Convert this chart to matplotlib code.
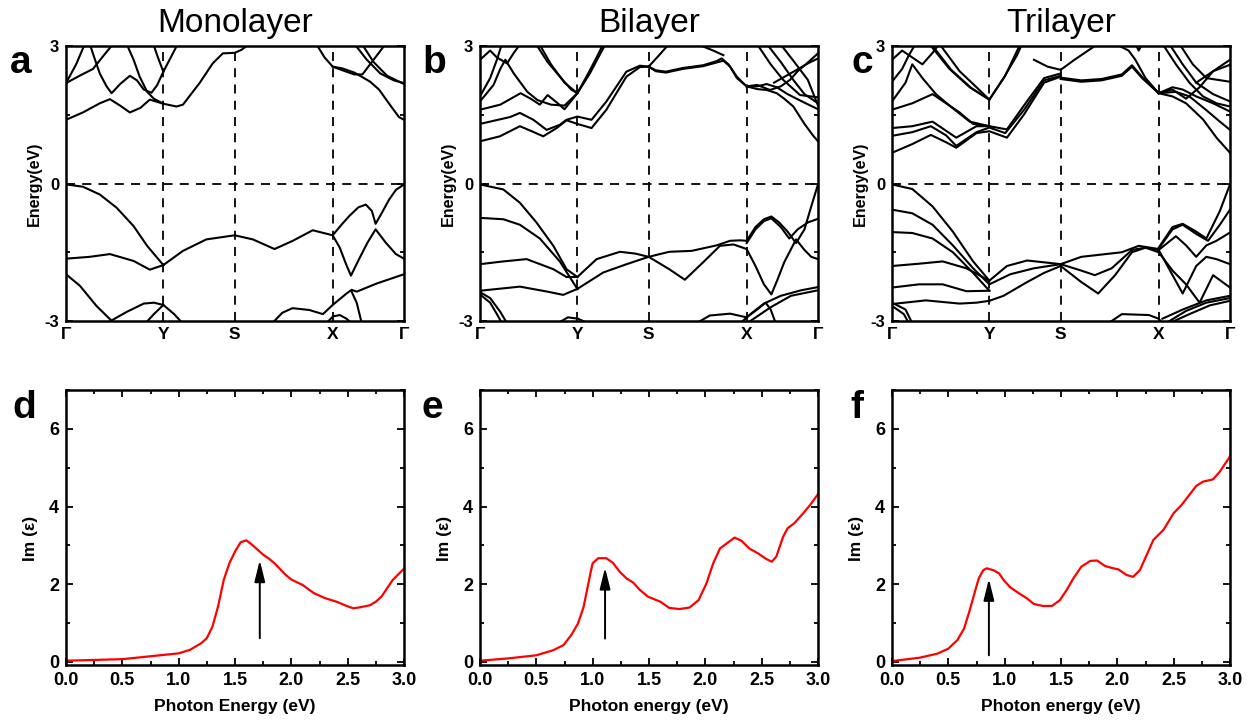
import numpy as np
import matplotlib
matplotlib.use("Agg")
import matplotlib.pyplot as plt
from matplotlib.ticker import MultipleLocator, FixedLocator

plt.rcParams['font.family'] = ['Liberation Sans', 'DejaVu Sans']

# ---- high-symmetry path (fraction of total path length) ----
k_ticks = [0.0, 0.288, 0.499, 0.789, 1.0]
k_labels = ['Γ', 'Y', 'S', 'X', 'Γ']
titles = ['Monolayer', 'Bilayer', 'Trilayer']

# ---- band structures, each band is a list of (k, E) points ----
mono_bands = [
    # valence
    [(0, -0.02), (0.05, -0.07), (0.10, -0.24), (0.15, -0.53), (0.20, -0.93), (0.24, -1.36), (0.288, -1.78)],
    [(0, -1.64), (0.07, -1.60), (0.13, -1.54), (0.20, -1.69), (0.248, -1.88), (0.288, -1.78)],
    [(0.288, -1.78), (0.346, -1.47), (0.415, -1.22), (0.499, -1.13), (0.553, -1.22), (0.617, -1.43),
     (0.671, -1.25), (0.730, -1.02), (0.789, -1.13)],
    [(0.789, -1.13), (0.815, -0.90), (0.838, -0.71), (0.865, -0.52), (0.887, -0.46), (0.905, -0.60),
     (0.916, -0.88), (0.936, -0.62), (0.956, -0.35), (0.976, -0.14), (1.0, -0.02)],
    [(0.789, -1.13), (0.81, -1.40), (0.828, -1.75), (0.843, -2.01), (0.867, -1.65), (0.892, -1.29),
     (0.916, -1.00), (0.946, -1.29), (0.976, -1.54), (1.0, -1.64)],
    [(0, -1.98), (0.041, -2.23), (0.09, -2.67), (0.13, -2.96), (0.145, -3.05)],
    [(0.12, -3.05), (0.18, -2.80), (0.23, -2.62), (0.26, -2.60), (0.288, -2.65), (0.32, -2.85), (0.345, -3.05)],
    [(0.235, -3.05), (0.26, -2.85), (0.288, -2.65)],
    [(0.61, -3.05), (0.64, -2.82), (0.67, -2.72), (0.72, -2.76), (0.76, -2.85), (0.789, -2.65), (0.83, -2.40),
     (0.845, -2.32), (0.86, -2.36), (0.92, -2.18), (1.0, -1.98)],
    [(0.77, -3.05), (0.79, -2.90), (0.81, -2.87), (0.83, -2.95), (0.845, -3.05)],
    [(0.845, -2.36), (0.86, -2.60), (0.875, -3.05)],
    # conduction
    [(0, 1.39), (0.05, 1.55), (0.10, 1.75), (0.13, 1.84), (0.16, 1.70), (0.189, 1.55), (0.22, 1.65),
     (0.248, 1.83), (0.288, 1.74), (0.327, 1.68), (0.346, 1.72), (0.395, 2.19), (0.434, 2.62),
     (0.464, 2.84), (0.499, 2.85), (0.52, 2.92), (0.543, 3.05)],
    [(0, 2.19), (0.04, 2.35), (0.08, 2.50), (0.11, 2.78), (0.14, 3.05)],
    [(0, 2.19), (0.03, 2.60), (0.056, 3.05)],
    [(0.07, 3.05), (0.085, 2.72), (0.10, 2.40), (0.12, 2.12), (0.135, 1.97), (0.16, 2.17), (0.189, 2.35),
     (0.21, 2.25), (0.23, 2.05), (0.253, 1.98), (0.27, 2.15), (0.288, 2.44), (0.31, 2.75), (0.331, 3.05)],
    [(0.179, 3.05), (0.20, 2.70), (0.218, 2.33), (0.24, 2.00), (0.26, 1.85), (0.288, 1.74)],
    [(0.258, 3.05), (0.272, 2.75), (0.288, 2.44)],
    [(0.74, 3.05), (0.765, 2.75), (0.789, 2.55), (0.818, 2.51), (0.853, 2.42), (0.877, 2.32), (0.90, 2.22),
     (0.926, 2.05), (0.96, 1.70), (0.985, 1.45), (1.0, 1.39)],
    [(0.789, 2.55), (0.818, 2.47), (0.853, 2.38), (0.877, 2.38), (0.91, 2.70), (0.946, 3.05)],
    [(0.853, 3.05), (0.89, 2.70), (0.93, 2.40), (0.97, 2.25), (1.0, 2.19)],
    [(0.875, 3.05), (0.91, 2.65), (0.95, 2.35), (1.0, 2.17)],
]

bi_bands = [
    # valence
    [(0, -0.02), (0.069, -0.13), (0.118, -0.42), (0.167, -0.85), (0.217, -1.36), (0.256, -1.87), (0.288, -2.04)],
    [(0, -0.75), (0.069, -0.78), (0.118, -0.90), (0.177, -1.20), (0.236, -1.70), (0.288, -2.30)],
    [(0, -1.76), (0.069, -1.70), (0.138, -1.65), (0.217, -1.87), (0.256, -2.04), (0.288, -2.04)],
    [(0, -2.34), (0.118, -2.25), (0.20, -2.36), (0.246, -2.43), (0.288, -2.30)],
    [(0.288, -2.04), (0.345, -1.65), (0.414, -1.49), (0.46, -1.53), (0.499, -1.60), (0.56, -1.49),
     (0.626, -1.47), (0.70, -1.35), (0.74, -1.25), (0.77, -1.24), (0.789, -1.25)],
    [(0.288, -2.30), (0.365, -1.94), (0.434, -1.76), (0.499, -1.60), (0.56, -1.87), (0.606, -2.10),
     (0.66, -1.72), (0.71, -1.36), (0.75, -1.33), (0.789, -1.43)],
    [(0.789, -1.25), (0.815, -0.95), (0.84, -0.78), (0.862, -0.72), (0.885, -0.85), (0.91, -1.05),
     (0.935, -1.30), (0.96, -1.00), (0.98, -0.50), (1.0, -0.02)],
    [(0.789, -1.30), (0.815, -1.00), (0.84, -0.82), (0.862, -0.76), (0.89, -0.95), (0.915, -1.20),
     (0.94, -1.00), (0.97, -0.85), (1.0, -0.77)],
    [(0.789, -1.43), (0.815, -1.80), (0.84, -2.20), (0.862, -2.42), (0.88, -2.10), (0.90, -1.72),
     (0.935, -1.22), (0.96, -1.45), (0.98, -1.60), (1.0, -1.65)],
    [(0.77, -3.05), (0.80, -2.85), (0.84, -2.62), (0.89, -2.45), (0.95, -2.33), (1.0, -2.26)],
    [(0.79, -3.05), (0.82, -2.90), (0.86, -2.70), (0.92, -2.45), (1.0, -2.33)],
    [(0, -2.37), (0.03, -2.50), (0.06, -2.80), (0.08, -3.05)],
    [(0, -2.42), (0.03, -2.60), (0.05, -2.85), (0.065, -3.05)],
    [(0.23, -3.05), (0.26, -2.92), (0.29, -2.95), (0.32, -3.05)],
    [(0.64, -3.05), (0.68, -2.88), (0.74, -2.84), (0.789, -2.92), (0.82, -2.75), (0.845, -2.60),
     (0.86, -2.75), (0.875, -3.05)],
    # conduction
    [(0, 0.92), (0.059, 1.03), (0.118, 1.25), (0.153, 1.14), (0.187, 1.03), (0.227, 1.21), (0.256, 1.38),
     (0.288, 1.30), (0.330, 1.21), (0.374, 1.61), (0.433, 2.33), (0.473, 2.54), (0.499, 2.55)],
    [(0, 1.30), (0.089, 1.45), (0.118, 1.54), (0.158, 1.39), (0.197, 1.17), (0.236, 1.28), (0.256, 1.39),
     (0.288, 1.46), (0.330, 1.39), (0.374, 1.79), (0.433, 2.44), (0.473, 2.57), (0.499, 2.55)],
    [(0, 1.61), (0.06, 1.72), (0.12, 1.97), (0.15, 1.85), (0.177, 1.72), (0.20, 1.93), (0.23, 1.75),
     (0.25, 1.62), (0.288, 1.97), (0.32, 2.40), (0.345, 2.75), (0.365, 3.05)],
    [(0.288, 1.97), (0.325, 2.40), (0.35, 2.75), (0.372, 3.05)],
    [(0, 1.79), (0.04, 2.15), (0.06, 2.50), (0.075, 2.70), (0.10, 2.40), (0.14, 2.00), (0.17, 1.82),
     (0.21, 1.72), (0.25, 1.70), (0.288, 1.97)],
    [(0.165, 3.05), (0.20, 2.65), (0.24, 2.30), (0.27, 2.05), (0.288, 1.97)],
    [(0.175, 3.05), (0.21, 2.60), (0.25, 2.20), (0.288, 1.97)],
    [(0, 2.70), (0.03, 2.90), (0.05, 2.75), (0.08, 2.62), (0.10, 2.85), (0.12, 3.05)],
    [(0, 1.90), (0.03, 2.30), (0.05, 2.70), (0.065, 3.05)],
    [(0.499, 2.55), (0.52, 2.47), (0.55, 2.44), (0.60, 2.52), (0.66, 2.58), (0.70, 2.67), (0.715, 2.73),
     (0.735, 2.60), (0.76, 2.33), (0.78, 2.18), (0.789, 2.12)],
    [(0.499, 2.55), (0.52, 2.45), (0.55, 2.42), (0.60, 2.50), (0.66, 2.56), (0.70, 2.64), (0.72, 2.68),
     (0.74, 2.55), (0.76, 2.30), (0.789, 2.12)],
    [(0.499, 2.55), (0.53, 2.80), (0.56, 3.05)],
    [(0.64, 3.05), (0.69, 2.90), (0.72, 2.80)],
    [(0.789, 2.12), (0.82, 2.06), (0.848, 2.04), (0.878, 1.97), (0.90, 1.85), (0.927, 1.68), (0.96, 1.30),
     (0.985, 1.05), (1.0, 0.92)],
    [(0.789, 2.12), (0.82, 2.12), (0.848, 2.17), (0.878, 2.10), (0.91, 1.95), (0.95, 1.80), (1.0, 1.62)],
    [(0.789, 2.12), (0.82, 2.15), (0.858, 2.04), (0.89, 2.12), (0.917, 2.26), (0.94, 2.45), (0.967, 2.62),
     (1.0, 2.84)],
    [(0.819, 3.05), (0.86, 2.60), (0.897, 2.26), (0.947, 1.93), (1.0, 1.88)],
    [(0.848, 3.05), (0.89, 2.65), (0.927, 2.26), (0.96, 1.95), (1.0, 1.75)],
    [(0.888, 3.05), (0.93, 2.65), (0.97, 2.26), (1.0, 1.70)],
    [(0.87, 2.20), (0.93, 2.45), (0.97, 2.62), (1.0, 2.73)],
]

tri_bands = [
    # valence
    [(0, -0.02), (0.06, -0.12), (0.12, -0.50), (0.18, -1.05), (0.24, -1.70), (0.288, -2.12)],
    [(0, -0.57), (0.06, -0.65), (0.12, -0.90), (0.18, -1.35), (0.24, -1.85), (0.288, -2.20)],
    [(0, -1.06), (0.06, -1.08), (0.12, -1.20), (0.18, -1.50), (0.24, -1.95), (0.288, -2.34)],
    [(0, -1.80), (0.08, -1.75), (0.15, -1.70), (0.22, -1.85), (0.288, -2.12)],
    [(0, -2.27), (0.08, -2.20), (0.15, -2.20), (0.22, -2.35), (0.288, -2.34)],
    [(0, -2.63), (0.10, -2.55), (0.20, -2.62), (0.25, -2.60), (0.288, -2.56)],
    [(0.288, -2.12), (0.34, -1.80), (0.40, -1.68), (0.45, -1.72), (0.499, -1.76)],
    [(0.288, -2.20), (0.35, -1.98), (0.42, -1.85), (0.499, -1.76)],
    [(0.288, -2.56), (0.33, -2.45), (0.40, -2.15), (0.45, -1.95), (0.499, -1.80)],
    [(0.499, -1.76), (0.56, -1.60), (0.62, -1.55), (0.68, -1.50), (0.73, -1.36), (0.789, -1.43)],
    [(0.499, -1.76), (0.56, -1.90), (0.60, -2.00), (0.65, -1.85), (0.71, -1.45), (0.75, -1.40), (0.789, -1.45)],
    [(0.499, -1.80), (0.56, -2.15), (0.61, -2.40), (0.66, -2.00), (0.71, -1.50), (0.75, -1.40), (0.789, -1.50)],
    [(0.789, -1.40), (0.83, -0.95), (0.86, -0.88), (0.90, -1.05), (0.93, -1.20), (0.97, -0.60), (1.0, -0.02)],
    [(0.789, -1.42), (0.83, -1.00), (0.86, -0.90), (0.90, -1.10), (0.935, -1.25), (0.97, -0.90), (1.0, -0.57)],
    [(0.789, -1.45), (0.84, -1.15), (0.87, -1.35), (0.90, -1.60), (0.93, -1.35), (0.96, -1.25), (1.0, -1.07)],
    [(0.789, -1.45), (0.83, -2.00), (0.86, -2.40), (0.90, -1.80), (0.93, -1.60), (0.96, -1.65), (1.0, -1.76)],
    [(0.789, -1.50), (0.83, -1.90), (0.87, -2.20), (0.91, -2.60), (0.95, -2.00), (1.0, -2.27)],
    [(0.80, -2.95), (0.86, -2.75), (0.93, -2.55), (1.0, -2.45)],
    [(0.81, -3.05), (0.87, -2.78), (0.93, -2.60), (1.0, -2.50)],
    [(0.82, -3.05), (0.88, -2.85), (0.94, -2.66), (1.0, -2.56)],
    [(0, -2.60), (0.04, -2.75), (0.06, -3.05)],
    [(0, -2.67), (0.035, -2.85), (0.05, -3.05)],
    [(0.64, -3.05), (0.68, -2.85), (0.76, -2.87), (0.789, -2.95), (0.80, -3.05)],
    # conduction
    [(0, 0.67), (0.06, 0.86), (0.115, 1.06), (0.16, 0.90), (0.19, 0.78), (0.25, 1.10), (0.288, 1.14),
     (0.34, 1.00), (0.39, 1.50), (0.45, 2.20), (0.499, 2.33)],
    [(0, 1.04), (0.06, 1.12), (0.115, 1.25), (0.16, 1.05), (0.19, 0.82), (0.25, 1.12), (0.288, 1.22),
     (0.335, 1.10), (0.39, 1.60), (0.45, 2.25), (0.499, 2.35)],
    [(0, 1.21), (0.06, 1.25), (0.12, 1.35), (0.17, 1.10), (0.19, 1.00), (0.25, 1.25), (0.288, 1.25),
     (0.34, 1.18), (0.40, 1.80), (0.45, 2.30), (0.499, 2.40)],
    [(0, 1.61), (0.06, 1.75), (0.12, 1.95), (0.20, 1.55), (0.24, 1.30), (0.288, 1.25)],
    [(0, 1.79), (0.04, 2.20), (0.06, 2.60), (0.09, 2.30), (0.13, 1.95), (0.17, 1.70), (0.23, 1.35), (0.288, 1.25)],
    [(0.11, 3.05), (0.17, 2.50), (0.23, 2.10), (0.288, 1.83)],
    [(0.115, 3.05), (0.175, 2.48), (0.235, 2.08), (0.288, 1.83)],
    [(0.14, 3.05), (0.20, 2.45), (0.25, 2.10), (0.288, 1.83)],
    [(0.288, 1.83), (0.33, 2.30), (0.37, 2.80), (0.385, 3.05)],
    [(0.288, 1.83), (0.335, 2.35), (0.38, 3.05)],
    [(0, 2.22), (0.03, 2.50), (0.05, 2.80), (0.07, 3.05)],
    [(0, 2.70), (0.03, 2.90), (0.06, 2.75), (0.09, 2.60), (0.12, 2.85), (0.14, 3.05)],
    [(0.42, 2.70), (0.46, 2.55), (0.499, 2.48), (0.54, 2.70), (0.58, 2.90), (0.61, 3.05)],
    [(0.499, 2.28), (0.56, 2.22), (0.62, 2.25), (0.68, 2.35), (0.71, 2.55), (0.74, 2.30), (0.789, 1.97)],
    [(0.499, 2.31), (0.56, 2.25), (0.62, 2.28), (0.68, 2.38), (0.71, 2.58), (0.745, 2.28), (0.789, 1.97)],
    [(0.66, 3.05), (0.70, 2.90), (0.72, 2.70), (0.75, 2.30), (0.789, 1.97)],
    [(0.72, 3.05), (0.73, 2.90), (0.74, 3.05)],
    [(0.789, 1.97), (0.83, 1.90), (0.87, 1.75), (0.92, 1.40), (0.96, 1.00), (1.0, 0.67)],
    [(0.789, 1.97), (0.84, 2.00), (0.88, 1.90), (0.93, 1.60), (0.97, 1.35), (1.0, 1.17)],
    [(0.789, 1.97), (0.83, 2.05), (0.87, 1.85), (0.91, 2.10), (0.95, 2.45), (1.0, 2.70)],
    [(0.789, 1.97), (0.83, 2.10), (0.86, 2.05), (0.90, 1.90), (0.95, 1.75), (1.0, 1.57)],
    [(0.80, 3.05), (0.84, 2.60), (0.88, 2.20), (0.92, 1.90), (0.96, 1.75), (1.0, 1.68)],
    [(0.82, 3.05), (0.86, 2.60), (0.90, 2.20), (0.95, 1.95), (1.0, 1.79)],
    [(0.85, 3.05), (0.89, 2.60), (0.93, 2.30), (1.0, 2.22)],
    [(0.90, 2.20), (0.95, 2.45), (1.0, 2.59)],
]

# ---- imaginary dielectric function ----
mono_e = [0.0, 0.5, 1.0, 1.1, 1.2, 1.25, 1.3, 1.35, 1.4, 1.45, 1.5, 1.55, 1.6, 1.65, 1.7, 1.75, 1.8, 1.85,
          1.9, 1.95, 2.0, 2.1, 2.2, 2.3, 2.4, 2.5, 2.55, 2.6, 2.7, 2.75, 2.8, 2.9, 3.0]
mono_im = [0.03, 0.07, 0.22, 0.31, 0.48, 0.61, 0.91, 1.43, 2.11, 2.54, 2.84, 3.08, 3.13, 3.02, 2.89, 2.76,
           2.66, 2.54, 2.39, 2.24, 2.12, 1.98, 1.77, 1.64, 1.55, 1.43, 1.38, 1.40, 1.46, 1.55, 1.68, 2.11, 2.40]

bi_e = [0.0, 0.25, 0.5, 0.65, 0.74, 0.81, 0.87, 0.92, 0.95, 0.98, 1.0, 1.05, 1.12, 1.18, 1.24, 1.30, 1.36,
        1.42, 1.49, 1.60, 1.68, 1.77, 1.86, 1.94, 2.01, 2.07, 2.13, 2.19, 2.26, 2.32, 2.39, 2.47, 2.54, 2.59,
        2.63, 2.69, 2.73, 2.79, 2.87, 2.93, 3.0]
bi_im = [0.03, 0.09, 0.17, 0.30, 0.43, 0.69, 0.99, 1.42, 1.85, 2.28, 2.54, 2.67, 2.67, 2.55, 2.32, 2.15, 2.04,
         1.85, 1.68, 1.55, 1.39, 1.36, 1.40, 1.59, 2.02, 2.54, 2.92, 3.05, 3.20, 3.12, 2.92, 2.79, 2.65, 2.58,
         2.71, 3.22, 3.44, 3.57, 3.83, 4.04, 4.32]

tri_e = [0.0, 0.25, 0.40, 0.50, 0.58, 0.64, 0.69, 0.74, 0.77, 0.81, 0.84, 0.90, 0.95, 0.99, 1.05, 1.12, 1.20,
         1.26, 1.34, 1.42, 1.49, 1.55, 1.61, 1.68, 1.76, 1.82, 1.89, 1.95, 2.01, 2.08, 2.14, 2.20, 2.26, 2.32,
         2.41, 2.50, 2.57, 2.65, 2.70, 2.76, 2.85, 2.91, 3.0]
tri_im = [0.02, 0.11, 0.21, 0.34, 0.56, 0.86, 1.33, 1.85, 2.15, 2.36, 2.41, 2.36, 2.28, 2.11, 1.92, 1.78, 1.63,
          1.49, 1.44, 1.44, 1.59, 1.85, 2.15, 2.45, 2.60, 2.61, 2.47, 2.42, 2.38, 2.24, 2.19, 2.36, 2.75, 3.14,
          3.40, 3.83, 4.04, 4.34, 4.53, 4.64, 4.70, 4.90, 5.29]

# arrows marking the excitonic absorption edge: (energy, bottom, top)
arrows = [(1.72, 0.61, 2.62), (1.11, 0.60, 2.43), (0.86, 0.17, 2.14)]
xlabels = ['Photon Energy (eV)', 'Photon energy (eV)', 'Photon energy (eV)']

W, H = 1249, 721
fig = plt.figure(figsize=(W / 100, H / 100), dpi=100)

lefts = [66, 480, 892]
aw = 338


def box(left, top, bottom):
    return [left / W, 1 - bottom / H, aw / W, (bottom - top) / H]


top_axes = [fig.add_axes(box(l, 46, 321)) for l in lefts]
bot_axes = [fig.add_axes(box(l, 390, 665)) for l in lefts]

for ax, bands, title in zip(top_axes, [mono_bands, bi_bands, tri_bands], titles):
    for band in bands:
        kk, ee = zip(*band)
        ax.plot(kk, ee, color='black', lw=1.5, solid_joinstyle='round')
    for kv in k_ticks[1:-1]:
        ax.axvline(kv, color='black', lw=1.3, ls=(0, (5, 4)))
    ax.axhline(0, color='black', lw=1.3, ls=(0, (5, 4)))
    ax.set_xlim(0, 1)
    ax.set_ylim(-3, 3)
    ax.set_xticks(k_ticks)
    ax.set_xticklabels(k_labels, fontsize=12.5, fontweight='bold')
    ax.tick_params(axis='x', length=0, pad=4)
    ax.set_yticks([-3, 0, 3])
    ax.set_yticklabels(['-3', '0', '3'], fontsize=12, fontweight='bold')
    ax.yaxis.set_minor_locator(FixedLocator([-1.5, 1.5]))
    ax.tick_params(axis='y', which='both', direction='in', left=True, right=True, width=1.3, pad=5)
    ax.tick_params(axis='y', which='major', length=5)
    ax.tick_params(axis='y', which='minor', length=3)
    ax.set_ylabel('Energy(eV)', fontsize=11.5, fontweight='bold')
    ax.yaxis.set_label_coords(-0.072, 0.5)
    for s in ax.spines.values():
        s.set_linewidth(1.8)
    ax.set_title(title, fontsize=24, pad=10)

for ax, xs, ys, arr, xl in zip(bot_axes, [mono_e, bi_e, tri_e], [mono_im, bi_im, tri_im], arrows, xlabels):
    ax.plot(xs, ys, color='red', lw=1.6)
    ax.annotate('', xy=(arr[0], arr[2]), xytext=(arr[0], arr[1]),
                arrowprops=dict(arrowstyle='-|>,head_length=0.65,head_width=0.16', color='black',
                                lw=1.4, mutation_scale=20, shrinkA=0, shrinkB=0))
    ax.set_xlim(0, 3)
    ax.set_ylim(-0.08, 7.0)
    ax.xaxis.set_minor_locator(MultipleLocator(0.25))
    ax.yaxis.set_minor_locator(MultipleLocator(1))
    ax.set_xticks(np.arange(0, 3.01, 0.5))
    ax.set_xticklabels(['%.1f' % v for v in np.arange(0, 3.01, 0.5)], fontsize=13, fontweight='bold')
    ax.set_yticks([0, 2, 4, 6])
    ax.set_yticklabels(['0', '2', '4', '6'], fontsize=13, fontweight='bold')
    ax.tick_params(which='both', direction='in', top=True, right=True, width=1.3, pad=5)
    ax.tick_params(which='major', length=5)
    ax.tick_params(which='minor', length=3)
    ax.set_xlabel(xl, fontsize=12.5, fontweight='bold')
    ax.xaxis.set_label_coords(0.5, -0.125)
    ax.set_ylabel('Im (ε)', fontsize=12.5, fontweight='bold')
    ax.yaxis.set_label_coords(-0.083, 0.46)
    for s in ax.spines.values():
        s.set_linewidth(1.8)

# panel letters
for letter, (px, py) in zip('abcdef', [(21, 73), (434, 73), (862, 73), (24, 418), (432, 418), (857, 418)]):
    fig.text(px / W, 1 - py / H, letter, fontsize=28, fontweight='bold', ha='center', va='baseline')

fig.savefig('out.png', dpi=100)
